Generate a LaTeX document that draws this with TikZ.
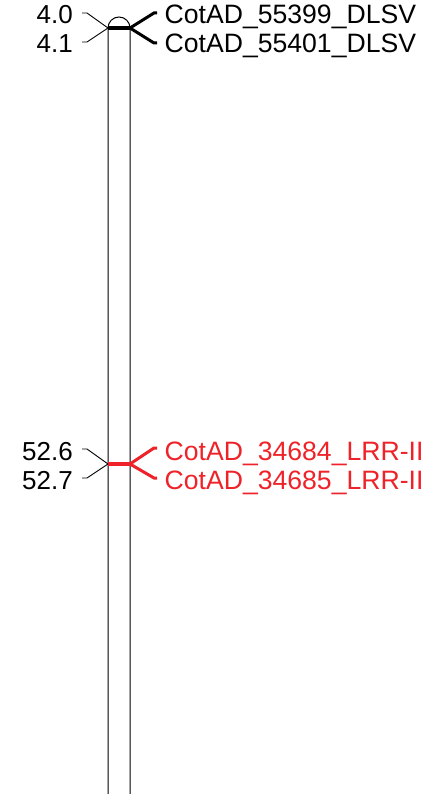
\documentclass[tikz,border=0pt]{standalone}
\usepackage{fontspec}
\setmainfont{Liberation Sans}
\usetikzlibrary{positioning}
\definecolor{qtlred}{RGB}{238,34,40}

\begin{document}
\begin{tikzpicture}[
    x=1pt, y=-1pt,
    posl/.style={anchor=base east, inner sep=0pt, font=\fontsize{26}{31}\selectfont},
    genel/.style={anchor=base west, inner sep=0pt, font=\fontsize{26.6}{31}\selectfont},
    lead/.style={line width=0.9pt},
    link/.style={line width=3pt},
    band/.style={line width=3.2pt}
]
\useasboundingbox (0,0) rectangle (420,794);
\clip (0,0) rectangle (420,794);

% chromosome
\draw[line width=1pt] (108,800) -- (108,28) arc (180:360:11) -- (130,800);

% marker positions on the bar
\coordinate (m1l) at (108,28);
\coordinate (m1r) at (130,28);
\coordinate (m2l) at (108,464);
\coordinate (m2r) at (130,464);

% locus at 4.0 / 4.1
\node[posl] (p40) at (73,24) {4.0};
\node[posl] (p41) at (73,53) {4.1};
\node[genel] (g55399) at (164.5,24) {CotAD\_55399\_DLSV};
\node[genel] (g55401) at (164.5,53) {CotAD\_55401\_DLSV};

\draw[band] (m1l) -- (m1r);
\draw[lead] (m1l) -- (87,13) -- (82,13);
\draw[lead] (m1l) -- (87,42) -- (82,42);
\draw[link] (m1r) -- (154,13) -- (157,13);
\draw[link] (m1r) -- (154,43) -- (157,43);

% locus at 52.6 / 52.7
\node[posl] (p526) at (73,460) {52.6};
\node[posl] (p527) at (73,489) {52.7};
\node[genel, text=qtlred] (g34684) at (164.5,460) {CotAD\_34684\_LRR-II};
\node[genel, text=qtlred] (g34685) at (164.5,489) {CotAD\_34685\_LRR-II};

\draw[band, qtlred] (m2l) -- (m2r);
\draw[lead] (m2l) -- (87,449) -- (82,449);
\draw[lead] (m2l) -- (87,478) -- (82,478);
\draw[link, qtlred] (m2r) -- (154,448) -- (157,448);
\draw[link, qtlred] (m2r) -- (154,478) -- (157,478);
\end{tikzpicture}
\end{document}
